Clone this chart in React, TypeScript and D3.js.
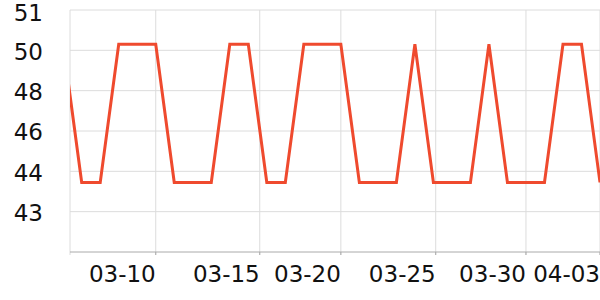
import React from "react";
import * as d3 from "d3";

const dates: string[] = [
  "2024-03-05", "2024-03-06", "2024-03-07", "2024-03-08", "2024-03-09",
  "2024-03-10", "2024-03-11", "2024-03-12", "2024-03-13", "2024-03-14",
  "2024-03-15", "2024-03-16", "2024-03-17", "2024-03-18", "2024-03-19",
  "2024-03-20", "2024-03-21", "2024-03-22", "2024-03-23", "2024-03-24",
  "2024-03-25", "2024-03-26", "2024-03-27", "2024-03-28", "2024-03-29",
  "2024-03-30", "2024-03-31", "2024-04-01", "2024-04-02", "2024-04-03",
];
const values: number[] = [
  50.3, 43.45, 43.45, 50.3, 50.3,
  50.3, 43.45, 43.45, 43.45, 50.3,
  50.3, 43.45, 43.45, 50.3, 50.3,
  50.3, 43.45, 43.45, 43.45, 50.3,
  43.45, 43.45, 43.45, 50.3, 43.45,
  43.45, 43.45, 50.3, 50.3, 43.45,
];
const xDomain: string[] = ["2024-03-05T08:50:00Z", "2024-04-03T00:00:00Z"];
const xTickValues: string[] = [
  "2024-03-10T00:00:00Z", "2024-03-15T14:50:00Z", "2024-03-20T00:00:00Z",
  "2024-03-25T03:00:00Z", "2024-03-30T00:00:00Z", "2024-04-03T00:00:00Z",
];
const xTickLabels: string[] = ["03-10", "03-15", "03-20", "03-25", "03-30", "04-03"];
const yDomain: number[] = [40, 52];
const yTickValues: number[] = [52, 50, 48, 46, 44, 42];
const yTickLabels: string[] = ["51", "50", "48", "46", "44", "43"];

const W = 600, H = 300;
const left = 70, right = 600, top = 10, bottom = 252;
const FONT = "'DejaVu Sans', sans-serif";

export default function App() {
  const x = d3.scaleUtc().domain(xDomain.map((d) => new Date(d))).range([left, right]);
  const y = d3.scaleLinear().domain(yDomain).range([bottom, top]);
  const pts = dates.map((d, i) => ({ t: new Date(d + "T00:00:00Z"), v: values[i] }));
  const line = d3.line<{ t: Date; v: number }>().x((d) => x(d.t)).y((d) => y(d.v));
  const xt = xTickValues.map((d) => new Date(d));

  return (
    <svg width={W} height={H} style={{ position: "absolute", left: 0, top: 0, background: "#fff" }}>
      <defs>
        <clipPath id="plot">
          <rect x={left} y={0} width={right - left + 2} height={bottom} />
        </clipPath>
      </defs>
      {yTickValues.map((v) => (
        <line key={"gy" + v} x1={left} x2={right} y1={y(v)} y2={y(v)} stroke="#dcdcdc" strokeWidth={1} />
      ))}
      {xt.map((t, i) => (
        <line key={"gx" + i} x1={x(t)} x2={x(t)} y1={top} y2={bottom + 3} stroke="#dcdcdc" strokeWidth={1} />
      ))}
      <line x1={left} x2={left} y1={top} y2={bottom + 3} stroke="#dcdcdc" strokeWidth={1} />
      <line x1={left} x2={right} y1={bottom} y2={bottom} stroke="#aaaaaa" strokeWidth={1} />
      {xt.map((t, i) => (
        <line key={"tk" + i} x1={x(t)} x2={x(t)} y1={bottom} y2={bottom + 3} stroke="#aaaaaa" strokeWidth={1} />
      ))}
      <path d={line(pts) || ""} fill="none" stroke="#ef4a2e" strokeWidth={3} strokeLinejoin="miter" clipPath="url(#plot)" />
      {yTickValues.map((v, i) => (
        <text key={"yl" + v} x={43} y={Math.max(y(v), 12)} dy="0.4em" textAnchor="end" fontFamily={FONT} fontSize={23} fill="#111">
          {yTickLabels[i]}
        </text>
      ))}
      {xt.map((t, i) => (
        <text key={"xl" + i} x={x(t)} y={282} textAnchor="end" fontFamily={FONT} fontSize={23} fill="#111">
          {xTickLabels[i]}
        </text>
      ))}
    </svg>
  );
}
